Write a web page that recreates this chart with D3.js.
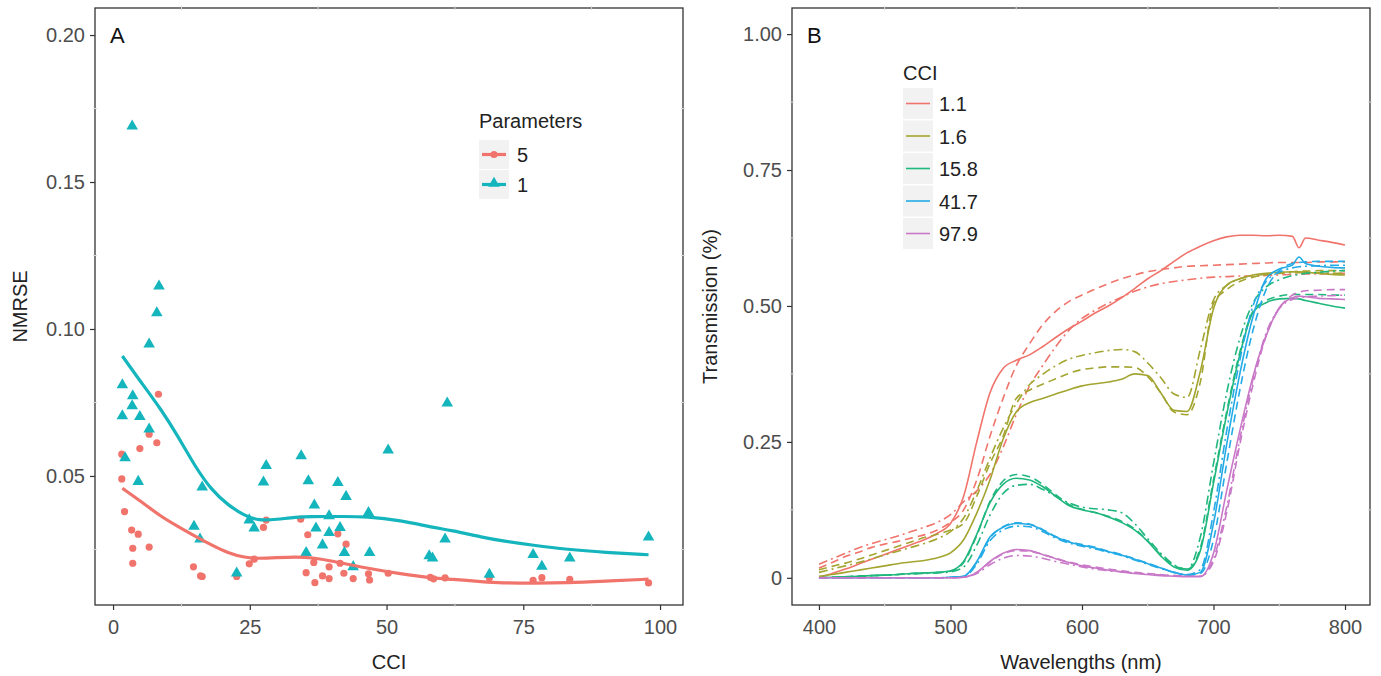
<!DOCTYPE html>
<html>
<head>
<meta charset="utf-8">
<script src="https://cdn.jsdelivr.net/npm/d3@7"></script>
<style>
  body { margin: 0; background: #fff; }
  text { font-family: 'Liberation Sans', Arial, sans-serif; }
</style>
</head>
<body>
<script>
// ---------- panel A data ----------
const cciP5 = [1.6, 1.6, 2.1, 3.4, 3.6, 3.6, 4.6, 4.9, 6.6, 6.6, 8.0, 8.3, 14.7, 16.0, 16.3, 22.6, 24.9, 25.8, 27.5, 28.0,
  34.3, 35.3, 35.6, 36.7, 36.9, 38.3, 39.5, 39.5, 41.1, 41.5, 42.2, 42.6, 43.9, 46.7, 46.9, 50.3, 58.0, 58.6, 60.7,
  68.8, 76.8, 78.4, 83.5, 97.9];
const nmrseP5 = [0.0574, 0.049, 0.0379, 0.0316, 0.0254, 0.0203, 0.0302, 0.0593, 0.0642, 0.0258, 0.0613, 0.0778, 0.0191,
  0.016, 0.0158, 0.0158, 0.0201, 0.0217, 0.0325, 0.035, 0.0353, 0.0171, 0.030, 0.0206, 0.0137, 0.016, 0.0191, 0.0151,
  0.0303, 0.0203, 0.0169, 0.0268, 0.0151, 0.0167, 0.0146, 0.0169, 0.0155, 0.015, 0.0153, 0.0154, 0.0145, 0.0154,
  0.0148, 0.0136];
const cciP1 = [1.7, 1.7, 2.2, 3.5, 3.5, 3.6, 4.6, 4.9, 6.6, 6.6, 8.0, 8.4, 14.8, 15.9, 16.3, 22.6, 24.9, 25.8, 27.5, 28.0,
  34.4, 35.3, 35.7, 36.8, 37.1, 38.3, 39.5, 39.5, 41.1, 41.5, 42.3, 42.6, 43.9, 46.7, 46.9, 50.3, 57.8, 58.4, 60.7,
  61.1, 68.8, 76.8, 78.4, 83.5, 97.9];
const nmrseP1 = [0.081, 0.0704, 0.0561, 0.169, 0.0738, 0.0772, 0.0481, 0.0702, 0.0948, 0.0659, 0.1055, 0.1146, 0.0328,
  0.0285, 0.0462, 0.0169, 0.035, 0.0322, 0.0479, 0.0535, 0.0568, 0.0239, 0.0483, 0.0401, 0.0322, 0.0265, 0.0364,
  0.0307, 0.0477, 0.0324, 0.0239, 0.043, 0.0191, 0.0375, 0.0239, 0.0588, 0.0228, 0.022, 0.0285, 0.0748, 0.0165,
  0.0232, 0.0192, 0.022, 0.0292];
// smoothed fits
const smoothCci = [1.7, 4.6, 8.9, 11.9, 15, 18, 21, 24.1, 26.6, 30, 33.3, 36.6, 39.5, 41.5, 46.5, 52.5, 58.6, 61.6,
  67.8, 70.8, 76.9, 83, 90, 97.9];
const smoothP1 = [0.0908, 0.0832, 0.0724, 0.0634, 0.0532, 0.0452, 0.0401, 0.0364, 0.0348, 0.0352, 0.036, 0.0362,
  0.0362, 0.0362, 0.0362, 0.0349, 0.0324, 0.0316, 0.029, 0.028, 0.0264, 0.025, 0.024, 0.0232];
const smoothP5 = [0.0458, 0.042, 0.036, 0.0328, 0.0295, 0.0265, 0.0238, 0.0222, 0.0219, 0.0222, 0.0225, 0.0222,
  0.0212, 0.0205, 0.0186, 0.0167, 0.0152, 0.0149, 0.014, 0.0136, 0.0135, 0.0136, 0.0142, 0.0149];
const xTicksA = [0, 25, 50, 75, 100];
const yTicksA = [0.05, 0.10, 0.15, 0.20];

// ---------- panel B data ----------
const wavelengths = [400, 410, 420, 430, 440, 450, 460, 470, 480, 490, 500, 510, 520, 530, 540, 550, 560, 570, 580,
  590, 600, 610, 620, 630, 640, 650, 660, 670, 680, 690, 700, 710, 720, 730, 740, 750, 760, 765, 770, 780, 790, 800];
const cciLevels = ['1.1', '1.6', '15.8', '41.7', '97.9'];
const r1 = [0, 0.008, 0.016, 0.025, 0.034, 0.043, 0.052, 0.061, 0.07, 0.082, 0.1, 0.15, 0.25, 0.34, 0.385, 0.4, 0.41,
  0.425, 0.442, 0.458, 0.472, 0.487, 0.5, 0.515, 0.532, 0.55, 0.565, 0.582, 0.598, 0.61, 0.62, 0.627, 0.63, 0.63,
  0.629, 0.63, 0.628, 0.607, 0.625, 0.621, 0.617, 0.612];
const r2 = [0.018, 0.028, 0.039, 0.047, 0.056, 0.062, 0.067, 0.073, 0.079, 0.088, 0.102, 0.125, 0.18, 0.26, 0.33,
  0.39, 0.43, 0.465, 0.49, 0.508, 0.52, 0.531, 0.541, 0.55, 0.557, 0.563, 0.567, 0.57, 0.573, 0.574, 0.575, 0.576,
  0.577, 0.578, 0.579, 0.58, 0.58, 0.58, 0.58, 0.581, 0.581, 0.581];
const r3 = [0.025, 0.035, 0.045, 0.055, 0.063, 0.07, 0.077, 0.085, 0.093, 0.102, 0.116, 0.14, 0.16, 0.19, 0.24, 0.3,
  0.352, 0.39, 0.425, 0.455, 0.477, 0.492, 0.505, 0.516, 0.527, 0.535, 0.541, 0.545, 0.548, 0.551, 0.553, 0.554,
  0.555, 0.555, 0.556, 0.557, 0.558, 0.558, 0.559, 0.559, 0.56, 0.56];
const o1 = [0.003, 0.006, 0.01, 0.014, 0.018, 0.022, 0.026, 0.029, 0.032, 0.037, 0.046, 0.07, 0.119, 0.18, 0.255,
  0.305, 0.322, 0.33, 0.338, 0.346, 0.353, 0.357, 0.36, 0.365, 0.375, 0.372, 0.34, 0.308, 0.306, 0.38, 0.495, 0.538,
  0.55, 0.557, 0.56, 0.562, 0.563, 0.563, 0.562, 0.56, 0.558, 0.557];
const o2 = [0.015, 0.021, 0.027, 0.034, 0.042, 0.05, 0.058, 0.066, 0.074, 0.08, 0.088, 0.1, 0.15, 0.21, 0.26, 0.33,
  0.345, 0.356, 0.366, 0.376, 0.383, 0.386, 0.388, 0.388, 0.387, 0.37, 0.34, 0.305, 0.3, 0.36, 0.505, 0.53, 0.545,
  0.553, 0.558, 0.561, 0.563, 0.564, 0.564, 0.565, 0.565, 0.565];
const o3 = [0.01, 0.016, 0.022, 0.028, 0.035, 0.042, 0.049, 0.056, 0.063, 0.072, 0.085, 0.11, 0.16, 0.22, 0.275,
  0.32, 0.355, 0.374, 0.39, 0.402, 0.409, 0.414, 0.418, 0.42, 0.416, 0.395, 0.368, 0.338, 0.332, 0.42, 0.511, 0.538,
  0.55, 0.556, 0.558, 0.56, 0.561, 0.561, 0.561, 0.561, 0.56, 0.56];
const g1 = [0, 0.001, 0.002, 0.003, 0.004, 0.005, 0.006, 0.008, 0.009, 0.01, 0.013, 0.03, 0.08, 0.138, 0.172, 0.183,
  0.18, 0.168, 0.15, 0.133, 0.125, 0.12, 0.112, 0.102, 0.088, 0.067, 0.04, 0.02, 0.014, 0.05, 0.174, 0.3, 0.41,
  0.488, 0.506, 0.513, 0.514, 0.513, 0.51, 0.505, 0.5, 0.496];
const g2 = [0, 0.001, 0.002, 0.003, 0.004, 0.005, 0.006, 0.008, 0.009, 0.01, 0.012, 0.028, 0.078, 0.14, 0.178, 0.19,
  0.186, 0.172, 0.153, 0.135, 0.126, 0.12, 0.113, 0.104, 0.09, 0.068, 0.042, 0.022, 0.016, 0.055, 0.18, 0.305, 0.415,
  0.49, 0.51, 0.518, 0.521, 0.521, 0.521, 0.521, 0.52, 0.52];
const g3 = [0, 0.001, 0.002, 0.003, 0.004, 0.005, 0.006, 0.007, 0.008, 0.009, 0.011, 0.02, 0.06, 0.115, 0.155, 0.17,
  0.172, 0.163, 0.15, 0.138, 0.13, 0.127, 0.125, 0.12, 0.1, 0.072, 0.045, 0.024, 0.016, 0.075, 0.21, 0.34, 0.44,
  0.505, 0.535, 0.548, 0.556, 0.558, 0.56, 0.562, 0.564, 0.565];
const b1 = [0, 0, 0, 0, 0, 0, 0, 0, 0, 0, 0.001, 0.003, 0.03, 0.075, 0.093, 0.1, 0.098, 0.088, 0.075, 0.066, 0.06,
  0.055, 0.048, 0.042, 0.034, 0.026, 0.018, 0.01, 0.005, 0.01, 0.1, 0.245, 0.375, 0.48, 0.55, 0.568, 0.575, 0.59,
  0.578, 0.573, 0.571, 0.57];
const b2 = [0, 0, 0, 0, 0, 0, 0, 0, 0, 0, 0.001, 0.003, 0.028, 0.073, 0.094, 0.101, 0.099, 0.089, 0.076, 0.067,
  0.061, 0.056, 0.049, 0.043, 0.035, 0.027, 0.018, 0.01, 0.005, 0.008, 0.07, 0.21, 0.345, 0.455, 0.53, 0.565, 0.578,
  0.58, 0.581, 0.582, 0.582, 0.582];
const b3 = [0, 0, 0, 0, 0, 0, 0, 0, 0, 0, 0.001, 0.002, 0.025, 0.068, 0.088, 0.095, 0.094, 0.085, 0.073, 0.064,
  0.058, 0.053, 0.047, 0.041, 0.033, 0.025, 0.017, 0.01, 0.006, 0.015, 0.12, 0.27, 0.4, 0.5, 0.545, 0.562, 0.57,
  0.572, 0.573, 0.574, 0.575, 0.575];
const v1 = [0, 0, 0, 0, 0, 0, 0, 0, 0, 0, 0, 0.001, 0.01, 0.03, 0.045, 0.052, 0.05, 0.043, 0.035, 0.028, 0.022,
  0.018, 0.014, 0.011, 0.008, 0.006, 0.004, 0.003, 0.002, 0.002, 0.045, 0.16, 0.27, 0.37, 0.445, 0.497, 0.515,
  0.518, 0.517, 0.514, 0.513, 0.512];
const v2 = [0, 0, 0, 0, 0, 0, 0, 0, 0, 0, 0, 0.001, 0.01, 0.029, 0.044, 0.05, 0.049, 0.043, 0.036, 0.029, 0.024,
  0.02, 0.016, 0.013, 0.01, 0.008, 0.006, 0.004, 0.003, 0.003, 0.03, 0.12, 0.245, 0.355, 0.445, 0.495, 0.52, 0.525,
  0.528, 0.529, 0.53, 0.53];
const v3 = [0, 0, 0, 0, 0, 0, 0, 0, 0, 0, 0, 0.001, 0.008, 0.024, 0.036, 0.041, 0.04, 0.036, 0.03, 0.025, 0.02,
  0.016, 0.013, 0.011, 0.009, 0.007, 0.005, 0.004, 0.003, 0.003, 0.035, 0.13, 0.255, 0.365, 0.45, 0.495, 0.512,
  0.515, 0.517, 0.518, 0.519, 0.52];
const xTicksB = [400, 500, 600, 700, 800];
const yTicksB = [0, 0.25, 0.5, 0.75, 1.0];

const width = 1381;
const height = 676;
const red = '#f0746c';
const teal = '#14b5bd';
const lineColors = ['#f0746c', '#a3a530', '#1fb77d', '#24abe6', '#c878c7'];
const dashes = [null, '8,5', '9,4,2,4'];
const fs = 20;

const svg = d3.select('body')
  .append('svg')
  .attr('width', width)
  .attr('height', height);

svg.append('rect')
  .attr('width', width)
  .attr('height', height)
  .attr('fill', 'white');

// shared frame drawing: border, minor grid cuts, axes, titles
function frame(x, y, xTicks, yTicks, yFmt, minorX, minorY, xTitle, yTitle, yTitleX, tag) {
  const [x0, x1] = x.range();
  const [y0, y1] = y.range();
  const g = svg.append('g');

  g.append('rect')
    .attr('x', x0)
    .attr('y', y1)
    .attr('width', x1 - x0)
    .attr('height', y0 - y1)
    .attr('fill', 'white')
    .attr('stroke', '#333')
    .attr('stroke-width', 1.3);

  // light nicks where the minor grid crosses the border
  minorX.forEach(d => {
    [y1, y0].forEach(yy => {
      g.append('line')
        .attr('x1', x(d)).attr('x2', x(d))
        .attr('y1', yy - 2).attr('y2', yy + 2)
        .attr('stroke', '#d8d8d8').attr('stroke-width', 1);
    });
  });
  minorY.forEach(d => {
    [x0, x1].forEach(xx => {
      g.append('line')
        .attr('x1', xx - 2).attr('x2', xx + 2)
        .attr('y1', y(d)).attr('y2', y(d))
        .attr('stroke', '#d8d8d8').attr('stroke-width', 1);
    });
  });

  const xa = g.append('g')
    .attr('transform', `translate(0,${y0})`)
    .call(d3.axisBottom(x).tickValues(xTicks).tickSize(5).tickPadding(10).tickFormat(d => d));
  const ya = g.append('g')
    .attr('transform', `translate(${x0},0)`)
    .call(d3.axisLeft(y).tickValues(yTicks).tickSize(5).tickPadding(5).tickFormat(yFmt));
  [xa, ya].forEach(a => {
    a.select('.domain').remove();
    a.selectAll('line').attr('stroke', '#333').attr('stroke-width', 1.2);
    a.selectAll('text')
      .attr('fill', '#4d4d4d')
      .attr('font-size', fs)
      .attr('font-family', "'Liberation Sans', Arial, sans-serif");
  });

  g.append('text')
    .attr('x', (x0 + x1) / 2)
    .attr('y', 669)
    .attr('text-anchor', 'middle')
    .attr('font-size', fs)
    .attr('fill', '#222')
    .text(xTitle);
  g.append('text')
    .attr('transform', `translate(${yTitleX},${(y0 + y1) / 2}) rotate(-90)`)
    .attr('text-anchor', 'middle')
    .attr('font-size', fs)
    .attr('fill', '#222')
    .text(yTitle);
  g.append('text')
    .attr('x', x0 + 15)
    .attr('y', 43)
    .attr('font-size', 22)
    .attr('fill', '#111')
    .text(tag);
}

// ================= panel A =================
const xA = d3.scaleLinear().domain([-3.3, 104.2]).range([95, 683]);
const yA = d3.scaleLinear().domain([0.0061, 0.2092]).range([605, 8]);

frame(xA, yA, xTicksA, yTicksA, d3.format('.2f'),
  [12.5, 37.5, 62.5, 87.5], [0.025, 0.075, 0.125, 0.175], 'CCI', 'NMRSE', 27, 'A');

const tri = d3.symbol().type(d3.symbolTriangle).size(58);

svg.append('g').selectAll('circle')
  .data(cciP5.map((c, i) => [c, nmrseP5[i]]))
  .enter()
  .append('circle')
  .attr('cx', d => xA(d[0]))
  .attr('cy', d => yA(d[1]))
  .attr('r', 3.6)
  .attr('fill', red);

svg.append('g').selectAll('path')
  .data(cciP1.map((c, i) => [c, nmrseP1[i]]))
  .enter()
  .append('path')
  .attr('d', tri)
  .attr('transform', d => `translate(${xA(d[0])},${yA(d[1])})`)
  .attr('fill', teal);

const smoothLine = d3.line()
  .x(d => xA(d[0]))
  .y(d => yA(d[1]))
  .curve(d3.curveBasis);

[[smoothP5, red], [smoothP1, teal]].forEach(([vals, col]) => {
  svg.append('path')
    .datum(smoothCci.map((c, i) => [c, vals[i]]))
    .attr('d', smoothLine)
    .attr('fill', 'none')
    .attr('stroke', col)
    .attr('stroke-width', 3.2);
});

// legend A
const legA = svg.append('g').attr('transform', 'translate(479,0)');
legA.append('text')
  .attr('x', 0)
  .attr('y', 128)
  .attr('font-size', fs)
  .attr('fill', '#222')
  .text('Parameters');
['5', '1'].forEach((lab, i) => {
  const top = 140 + i * 30;
  const col = i === 0 ? red : teal;
  legA.append('rect')
    .attr('x', 0)
    .attr('y', top)
    .attr('width', 30)
    .attr('height', 29)
    .attr('fill', '#f2f2f2');
  legA.append('line')
    .attr('x1', 3)
    .attr('x2', 27)
    .attr('y1', top + 14.5)
    .attr('y2', top + 14.5)
    .attr('stroke', col)
    .attr('stroke-width', 3.2);
  if (i === 0) {
    legA.append('circle').attr('cx', 15).attr('cy', top + 14.5).attr('r', 3.6).attr('fill', col);
  } else {
    legA.append('path').attr('d', tri).attr('transform', `translate(15,${top + 13.5})`).attr('fill', col);
  }
  legA.append('text')
    .attr('x', 38)
    .attr('y', top + 22)
    .attr('font-size', fs)
    .attr('fill', '#222')
    .text(lab);
});

// ================= panel B =================
const xB = d3.scaleLinear().domain([379.5, 819]).range([792, 1370]);
const yB = d3.scaleLinear().domain([-0.05, 1.048]).range([605, 8]);

frame(xB, yB, xTicksB, yTicksB, d => (d === 0 ? '0' : d3.format('.2f')(d)),
  [450, 550, 650, 750], [0.125, 0.375, 0.625, 0.875], 'Wavelengths (nm)', 'Transmission (%)', 717, 'B');

const spectra = [[r1, r2, r3], [o1, o2, o3], [g1, g2, g3], [b1, b2, b3], [v1, v2, v3]];
const specLine = d3.line()
  .x(d => xB(d[0]))
  .y(d => yB(d[1]))
  .curve(d3.curveMonotoneX);

spectra.forEach((group, ci) => {
  group.forEach((vals, li) => {
    svg.append('path')
      .datum(wavelengths.map((w, i) => [w, vals[i]]))
      .attr('d', specLine)
      .attr('fill', 'none')
      .attr('stroke', lineColors[ci])
      .attr('stroke-width', 1.6)
      .attr('stroke-dasharray', dashes[li]);
  });
});

// legend B
const legB = svg.append('g').attr('transform', 'translate(903,0)');
legB.append('text')
  .attr('x', 0)
  .attr('y', 80)
  .attr('font-size', fs)
  .attr('fill', '#222')
  .text('CCI');
cciLevels.forEach((lab, i) => {
  const top = 88 + i * 32.5;
  legB.append('rect')
    .attr('x', 0)
    .attr('y', top)
    .attr('width', 30)
    .attr('height', 31)
    .attr('fill', '#f2f2f2');
  legB.append('line')
    .attr('x1', 3)
    .attr('x2', 27)
    .attr('y1', top + 15.5)
    .attr('y2', top + 15.5)
    .attr('stroke', lineColors[i])
    .attr('stroke-width', 1.6);
  legB.append('text')
    .attr('x', 36)
    .attr('y', top + 23)
    .attr('font-size', fs)
    .attr('fill', '#222')
    .text(lab);
});
</script>
</body>
</html>
